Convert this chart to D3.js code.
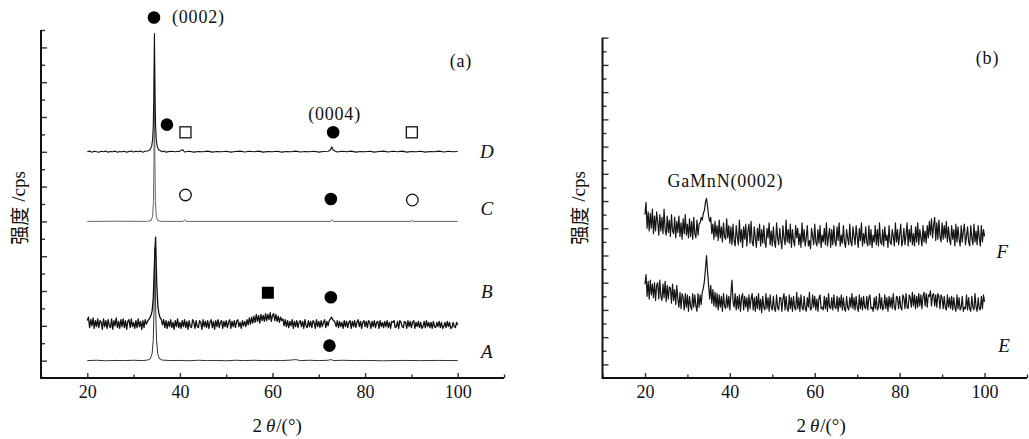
<!DOCTYPE html>
<html>
<head>
<meta charset="utf-8">
<script src="https://cdn.jsdelivr.net/npm/d3@7"></script>
<style>
  body { margin: 0; background: #fff; }
  svg { display: block; }
  svg text { font-family: "Liberation Serif", "Times New Roman", "DejaVu Serif", serif; }
  svg text .cjk { font-family: "Noto Sans CJK SC", "Noto Sans CJK JP", sans-serif; }
</style>
</head>
<body>
<svg id="chart" width="1029" height="439"></svg>
<script>
// ---- shared axis values ----
const angleDomain = [10, 110];
const angleMajorTicks = [20, 40, 60, 80, 100];
const angleMinorTicks = [10, 30, 50, 70, 90, 110];

// ---- panel (a): XRD scans, intensity in stacked units ----
const curveA = [[20,1.0],[22,1.02],[24,0.99],[26,1.01],[28,1.0],[30,1.02],[32,1.0],[33,1.03],[33.6,1.1],[34.0,1.4],[34.25,2.2],[34.4,3.8],[34.5,6.0],[34.58,7.5],[34.66,6.0],[34.78,3.8],[34.95,2.2],[35.2,1.4],[35.6,1.1],[36.2,1.03],[38,1.0],[40,1.01],[42,0.99],[44,1.02],[46,1.0],[48,1.01],[50,0.99],[52,1.02],[54,1.0],[56,1.02],[58,1.0],[60,1.01],[62,1.0],[64,1.03],[65,1.06],[66,1.0],[68,1.02],[70,1.0],[72,1.02],[72.6,1.06],[73.2,1.0],[75,1.02],[78,1.0],[80,1.01],[84,0.99],[88,1.01],[92,1.0],[96,1.01],[100,1.0]];

const curveC = [[20,9.0],[26,9.01],[33,9.0],[33.8,9.05],[34.1,9.3],[34.3,10.2],[34.42,13.0],[34.5,17.5],[34.58,13.0],[34.7,10.2],[34.9,9.3],[35.2,9.05],[36,9.0],[40.7,9.0],[41,9.1],[41.3,9.0],[72.6,9.0],[72.9,9.1],[73.2,9.0],[90,9.0],[90.2,9.07],[90.4,9.0],[100,9.0]];

const curveD = [[20,13.0],[20.5,13.04],[21,12.98],[21.5,13.03],[22,13.0],[22.5,12.97],[23,13.03],[23.5,13.0],[24,13.04],[24.5,12.98],[25,13.02],[25.5,13.0],[26,13.04],[26.5,12.97],[27,13.02],[27.5,13.0],[28,13.03],[28.5,12.98],[29,13.02],[29.5,13.04],[30,12.99],[30.5,13.03],[31,13.0],[31.5,13.04],[32,12.98],[32.5,13.03],[33,13.05],[33.5,13.1],[33.9,13.3],[34.1,13.7],[34.25,14.5],[34.35,16.0],[34.45,18.6],[34.5,19.8],[34.55,18.6],[34.65,16.0],[34.75,14.5],[34.9,13.7],[35.1,13.3],[35.4,13.12],[35.8,13.06],[36.2,13.0],[36.6,13.04],[37,12.98],[38,13.03],[39,13.0],[40,13.04],[40.6,13.12],[41,12.99],[42,13.03],[43,12.98],[44,13.02],[45,13.0],[46,13.04],[47,12.98],[48,13.02],[49,13.0],[50,13.03],[51,12.98],[52,13.02],[53,13.04],[54,12.99],[55,13.03],[56,13.0],[57,13.04],[58,12.98],[59,13.02],[60,13.0],[61,13.03],[62,12.98],[63,13.02],[64,13.0],[65,13.04],[66,12.99],[67,13.02],[68,13.0],[69,13.03],[70,12.98],[71,13.02],[72,13.03],[72.5,13.1],[72.8,13.28],[73.1,13.1],[73.6,13.03],[74,12.99],[75,13.03],[76,13.0],[77,13.04],[78,12.98],[79,13.02],[80,13.0],[81,13.03],[82,12.98],[83,13.02],[84,13.04],[85,12.99],[86,13.03],[87,13.0],[88,13.04],[89,12.98],[90,13.02],[91,13.0],[92,13.03],[93,12.98],[94,13.02],[95,13.0],[96,13.04],[97,12.99],[98,13.03],[99,13.0],[100,13.02]];

// noisy scans recorded on a regular 0.25 degree grid starting at 20 degrees
const scanStart = 20, scanStep = 0.25;

const scanB = [
  3.3,3.5,2.9,3.35, 3.0,3.45,2.85,3.3, 2.95,3.4,2.9,3.3, 3.2,2.8,3.4,2.95,
  3.3,2.85,3.35,3.0, 2.9,3.4,2.8,3.3, 3.0,3.45,2.9,3.25, 2.85,3.35,2.95,3.4,
  2.9,3.3,2.8,3.25, 3.35,2.9,3.4,2.95, 3.2,2.85,3.3,2.9, 3.4,2.95,3.25,2.8,
  3.3,2.9,3.35,3.1, 3.25,3.35,3.45,3.6, 3.85,4.6,6.6,8.1, 5.4,4.1,3.65,3.45,
  3.35,3.05,3.35,2.9, 3.3,2.85,3.25,2.95, 3.35,2.9,3.2,2.8, 3.3,2.95,3.4,2.9,
  3.2,2.85,3.3,2.95,3.35,2.9,3.25,2.8,
  3.3,2.95,2.9,3.35,3.2,2.85,3.3,2.95,
  2.9,3.3,3.2,2.8,3.35,2.95,3.25,2.9,
  3.3,2.85,3.2,3.35,2.9,3.25,2.8,3.3,
  2.95,3.35,2.9,3.2,3.3,2.85,3.25,2.95,
  3.3,2.9,3.2,3.35,2.85,3.25,2.95,3.3,
  2.9,3.25,3.35,2.95,3.2,2.85,3.3,3.0,
  3.25,2.95,3.35,3.05,3.45,3.1,3.5,3.15,
  3.55,3.2,3.65,3.25,3.6,3.15,3.65,3.3,
  3.6,3.25,3.7,3.3,3.65,3.35,3.75,3.25,
  3.6,3.7,3.3,3.65,3.25,3.55,3.2,3.5,
  3.3,3.4,3.0,3.35,2.95,3.3,2.9,3.25,
  3.0,3.35,2.85,3.25,2.95,3.3,2.9,3.2,
  3.3,2.95,3.25,2.85,3.35,3.0,2.9,3.3,
  2.95,3.25,2.9,3.3,3.2,2.85,3.35,2.95,
  3.25,2.9,3.3,2.95,3.2,3.35,2.9,3.25,
  3.0,3.3,3.4,3.5,3.35,3.3,3.2,2.95,
  3.3,2.9,3.25,2.95,3.2,2.85,3.3,2.95,
  3.25,2.9,3.2,3.3,2.85,3.25,2.95,3.3,
  2.9,3.2,3.35,2.95,3.25,2.85,3.2,3.3,
  2.95,3.25,2.9,3.3,3.2,2.85,3.25,2.95,
  3.3,2.9,3.2,3.25,2.85,3.3,2.95,3.2,
  2.9,3.25,2.95,3.3,2.9,3.2,2.85,3.25,
  3.2,3.3,2.9,2.95,3.25,2.85,3.3,3.2,
  2.95,2.9,3.25,3.2,2.85,3.3,2.95,3.25,
  2.9,3.2,3.3,2.85,3.2,2.95,3.25,2.9,
  3.2,2.85,2.95,3.25,2.9,3.3,2.95,3.2,
  2.9,3.2,2.85,3.25,2.95,2.9,3.2,2.95,
  3.25,2.9,3.2,2.85,2.95,3.2,2.9,3.25,
  2.95,3.2,2.85,2.9,3.2,2.95,2.9,3.2,
  3.05
];

// ---- panel (b): GaMnN films ----
const scanE = [
  6.9,7.6,6.0,7.1, 5.8,7.2,6.1,6.9, 5.9,7.0,5.7,6.8, 7.0,5.8,7.2,6.0,
  5.7,6.9,5.9,7.1, 5.6,6.8,5.8,6.7, 6.6,5.5,6.9,5.7, 6.5,5.4,6.8,5.8,
  5.2,6.3,5.1,6.2, 5.9,5.0,6.2,5.2, 6.1,4.9,6.0,5.3, 5.0,6.2,5.2,6.1,
  5.3,4.9,6.2,5.2, 6.1,5.4,6.3,6.6, 7.1,8.0,9.0,7.8, 6.8,5.8,6.8,5.5,
  6.5,5.3,6.3,5.2, 6.2,5.0,6.1,5.2, 6.0,4.9,6.2,5.3, 5.1,6.1,5.2,6.0,
  5.0,6.2,7.2,5.6, 5.2,6.2,5.0,6.0,
  5.1,6.1,4.9,5.9,6.2,5.0,6.0,5.2,
  5.9,4.9,6.1,5.1,5.8,6.2,5.0,5.9,
  4.9,6.0,5.1,6.2,5.0,5.8,4.8,6.0,
  5.2,5.0,6.2,5.1,5.9,4.9,6.1,5.2,
  5.0,6.0,5.1,4.9,6.1,5.2,5.0,5.9,
  5.9,4.9,5.8,6.2,5.0,6.0,5.1,4.9,
  6.1,5.1,5.9,4.9,6.0,5.2,5.0,6.3,
  5.1,5.9,4.9,6.1,5.2,5.0,6.0,5.1,
  4.9,5.9,5.2,6.3,5.0,5.1,6.1,5.2,
  6.0,5.0,5.8,4.9,5.9,6.1,5.1,5.2,
  5.0,6.0,5.1,5.9,4.9,6.2,5.2,5.1,
  5.9,5.0,6.1,5.2,5.1,6.0,4.9,5.9,
  5.2,6.1,5.0,5.9,5.1,4.9,6.0,5.2,
  5.0,5.9,5.2,6.2,5.1,5.9,5.0,6.0,
  5.2,4.9,6.1,5.1,5.9,5.0,6.0,5.2,
  5.1,6.0,5.0,5.9,6.1,5.1,5.2,4.9,
  5.9,5.1,6.0,5.0,5.2,6.2,5.1,5.9,
  5.0,5.2,6.1,5.1,5.9,4.9,6.0,5.2,
  5.9,5.1,6.2,5.2,5.0,6.0,5.9,5.1,
  6.0,5.2,5.0,6.1,5.9,5.1,6.2,5.2,
  5.1,6.1,5.9,5.2,6.3,5.3,6.1,5.1,
  6.0,5.2,6.2,5.3,6.1,5.1,6.0,6.3,
  5.3,6.2,5.2,6.1,6.0,6.4,5.3,6.1,
  6.2,5.3,6.1,5.2,6.2,6.0,5.1,6.1,
  5.9,5.1,6.0,5.2,5.0,6.1,5.2,5.9,
  5.1,6.0,5.0,5.9,5.2,4.9,6.1,5.1,
  5.9,5.0,5.2,6.0,4.9,5.2,5.1,6.1,
  5.0,5.9,5.1,4.9,6.0,5.2,5.0,6.2,
  5.2,4.9,5.9,5.1,5.0,6.0,5.1,6.1,
  5.6
];

const scanF = [
  12.0,12.9,11.0,12.2, 10.8,12.1,11.0,12.4, 10.6,11.9,10.8,12.2, 11.5,10.5,12.0,10.8,
  11.8,10.6,12.4,10.9, 10.5,11.9,10.7,11.6, 10.4,12.0,10.8,10.6, 11.8,10.3,11.5,10.7,
  11.9,10.4,11.4,10.2, 11.7,10.6,12.0,10.5, 11.3,10.3,11.7,10.4, 11.5,10.2,11.8,10.6,
  10.3,11.6,10.5,11.3, 11.4,11.8,11.6,12.1, 12.3,12.9,13.2,12.6, 11.9,11.5,11.8,10.6,
  11.3,10.2,11.5,10.4, 11.2,10.1,11.6,10.3, 11.1,10.0,11.4,10.4, 10.2,11.7,10.3,11.2,
  9.9,11.1,9.8,11.3,10.1,9.7,11.2,10.4,
  9.8,11.6,10.0,10.9,9.6,11.1,10.2,11.3,
  9.7,10.8,11.3,9.9,11.5,10.0,9.7,11.1,
  10.3,9.6,11.0,10.1,11.3,9.7,10.9,9.9,
  11.2,10.0,9.6,11.0,10.3,11.4,9.8,10.8,
  9.7,11.1,10.0,9.6,11.4,10.3,9.8,11.0,
  10.1,9.5,11.2,10.3,9.8,11.6,10.0,10.9,
  9.9,11.3,9.6,10.9,10.1,9.7,11.2,10.3,
  11.0,9.8,10.6,9.6,11.4,10.0,10.9,9.7,
  10.3,11.2,9.7,10.1,9.5,11.0,10.4,9.8,
  11.3,10.0,9.7,10.9,9.9,11.2,9.6,10.5,
  10.0,11.0,9.8,11.4,9.7,10.4,11.0,9.6,
  10.9,9.8,11.2,10.0,9.7,11.1,10.1,11.4,
  9.7,10.5,9.9,11.2,10.0,9.6,10.9,10.3,
  9.8,11.3,10.0,9.7,11.1,10.4,9.8,11.2,
  10.4,9.6,11.0,10.1,11.4,9.7,10.6,9.9,
  11.1,10.0,9.7,11.2,9.8,10.9,9.6,10.5,
  10.0,11.2,9.8,10.9,9.7,11.4,10.0,9.8,
  10.9,9.7,11.1,10.1,10.5,9.6,11.2,10.0,
  9.8,10.9,10.4,9.7,11.4,10.0,10.9,9.8,
  10.5,11.3,9.7,10.1,11.0,9.8,10.5,11.4,
  9.7,10.9,10.0,11.2,9.8,10.6,9.7,11.1,
  10.0,11.4,9.8,10.9,10.3,9.7,11.2,10.0,
  10.8,9.9,11.2,10.3,11.5,10.5,11.7,10.3,
  11.2,11.8,10.1,11.4,10.2,11.6,10.4,10.0,
  11.4,10.2,11.2,10.3,11.5,10.0,11.1,10.2,
  9.8,11.2,10.2,10.9,9.7,11.3,10.0,11.1,
  10.2,9.7,11.2,10.0,10.8,11.3,9.8,10.4,
  11.1,10.0,9.7,11.2,10.3,9.8,11.3,10.0,
  10.8,9.8,11.2,10.3,9.7,11.2,10.0,10.9,
  10.4
];

// phase markers and annotations, placed in (2theta, stacked level) coordinates
const markersLeft = [
  { angle: 34.4, level: 20.72, shape: "disc" },
  { angle: 37.2, level: 14.56, shape: "disc" },
  { angle: 41.2, level: 14.12, shape: "box" },
  { angle: 73.1, level: 14.12, shape: "disc" },
  { angle: 90.1, level: 14.12, shape: "box" },
  { angle: 41.2, level: 10.52, shape: "ring" },
  { angle: 72.6, level: 10.29, shape: "disc" },
  { angle: 90.2, level: 10.23, shape: "ring" },
  { angle: 59.0, level: 4.90, shape: "block" },
  { angle: 72.6, level: 4.64, shape: "disc" },
  { angle: 72.3, level: 1.86, shape: "disc" }
];
const notesLeft = [
  { text: "(0002)", angle: 38.3, level: 20.75, anchor: "start" },
  { text: "(0004)", angle: 73.4, level: 15.2, anchor: "middle" },
  { text: "(a)", angle: 100.7, level: 18.2, anchor: "middle" }
];
const sampleLabelsLeft = [
  { text: "D", angle: 106.3, level: 13.0 },
  { text: "C", angle: 106.3, level: 9.75 },
  { text: "B", angle: 106.3, level: 4.95 },
  { text: "A", angle: 106.3, level: 1.5 }
];
const notesRight = [
  { text: "GaMnN(0002)", angle: 25.3, level: 14.5, anchor: "start" },
  { text: "(b)", angle: 100.7, level: 23.5, anchor: "middle" }
];
const sampleLabelsRight = [
  { text: "F", angle: 104.2, level: 9.3 },
  { text: "E", angle: 104.6, level: 2.4 }
];

const svg = d3.select("#chart");

function drawPanel(cfg) {
  const x = d3.scaleLinear().domain(angleDomain).range([cfg.left, cfg.right]);
  const y = d3.scaleLinear().domain([0, cfg.levels]).range([cfg.bottom, cfg.top]);
  const g = svg.append("g");

  const styleTicks = sel => {
    sel.attr("font-family", null);
    sel.select(".domain").remove();
    sel.selectAll(".tick line").attr("stroke", "#333").attr("stroke-width", 1.4);
  };

  const oddLevels = d3.range(1, cfg.levels + 1, 2);
  const evenLevels = d3.range(2, cfg.levels + 1, 2);
  g.append("g").attr("transform", `translate(${cfg.left},0)`)
    .call(d3.axisLeft(y).tickValues(oddLevels).tickSize(-6).tickFormat(""))
    .call(styleTicks);
  g.append("g").attr("transform", `translate(${cfg.left},0)`)
    .call(d3.axisLeft(y).tickValues(evenLevels).tickSize(-4).tickFormat(""))
    .call(styleTicks);

  const xMajor = g.append("g").attr("transform", `translate(0,${cfg.bottom})`)
    .call(d3.axisBottom(x).tickValues(angleMajorTicks).tickSize(-5).tickPadding(7).tickFormat(d3.format("d")))
    .call(styleTicks);
  xMajor.attr("font-size", 18);
  xMajor.selectAll("text").attr("fill", "#111");
  g.append("g").attr("transform", `translate(0,${cfg.bottom})`)
    .call(d3.axisBottom(x).tickValues(angleMinorTicks).tickSize(-3.5).tickFormat(""))
    .call(styleTicks);

  // frame: y axis and x axis
  g.append("path")
    .attr("d", `M${cfg.left},${cfg.top}V${cfg.bottom}H${cfg.right}`)
    .attr("fill", "none").attr("stroke", "#111").attr("stroke-width", 2);

  // axis titles
  const yt = g.append("text")
    .attr("transform", `translate(${cfg.yTitleX},${cfg.yTitleY}) rotate(-90)`)
    .attr("text-anchor", "middle").attr("dominant-baseline", "central")
    .attr("font-size", 19).attr("fill", "#111");
  yt.append("tspan").attr("class", "cjk").text("强度");
  yt.append("tspan").attr("dx", 5).text("/cps");

  const xt = g.append("text")
    .attr("x", x(cfg.xTitleAngle)).attr("y", 425)
    .attr("text-anchor", "middle").attr("dominant-baseline", "central")
    .attr("font-size", 19).attr("fill", "#111");
  xt.append("tspan").text("2");
  xt.append("tspan").attr("dx", 4).attr("font-style", "italic").text("θ");
  xt.append("tspan").attr("dx", 1).text("/(°)");

  return { x, y, g };
}

const left = drawPanel({ left: 41, right: 504, top: 30, bottom: 378, levels: 20, yTitleX: 18, yTitleY: 208, xTitleAngle: 61 });
const right = drawPanel({ left: 602.5, right: 1027, top: 37.7, bottom: 378, levels: 25, yTitleX: 578, yTitleY: 208, xTitleAngle: 61.5 });

function pairsFromScan(values) {
  return values.map((v, i) => [scanStart + i * scanStep, v]);
}

function drawCurve(p, data, color, width) {
  const line = d3.line().x(d => p.x(d[0])).y(d => p.y(d[1]));
  p.g.append("path").datum(data)
    .attr("d", line)
    .attr("fill", "none").attr("stroke", color)
    .attr("stroke-width", width).attr("stroke-linejoin", "round");
}

drawCurve(left, curveA, "#333", 1);
drawCurve(left, pairsFromScan(scanB), "#111", 1.3);
drawCurve(left, curveC, "#555", 0.9);
drawCurve(left, curveD, "#111", 1.1);

drawCurve(right, pairsFromScan(scanF), "#151515", 1.2);
drawCurve(right, pairsFromScan(scanE), "#151515", 1.2);

// phase markers
function drawMarkers(p, list) {
  list.forEach(m => {
    const cx = p.x(m.angle), cy = p.y(m.level);
    if (m.shape === "disc") {
      p.g.append("circle").attr("cx", cx).attr("cy", cy).attr("r", 6.3).attr("fill", "#000");
    } else if (m.shape === "ring") {
      p.g.append("circle").attr("cx", cx).attr("cy", cy).attr("r", 5.8)
        .attr("fill", "#fff").attr("stroke", "#111").attr("stroke-width", 1.3);
    } else if (m.shape === "box") {
      p.g.append("rect").attr("x", cx - 5.5).attr("y", cy - 5.5).attr("width", 11).attr("height", 11)
        .attr("fill", "#fff").attr("stroke", "#111").attr("stroke-width", 1.3);
    } else {
      p.g.append("rect").attr("x", cx - 6).attr("y", cy - 6).attr("width", 12).attr("height", 12)
        .attr("fill", "#000");
    }
  });
}
drawMarkers(left, markersLeft);

function drawNotes(p, notes) {
  notes.forEach(n => {
    p.g.append("text").attr("x", p.x(n.angle)).attr("y", p.y(n.level))
      .attr("text-anchor", n.anchor).attr("dominant-baseline", "central")
      .attr("font-size", 18).attr("letter-spacing", 0.8)
      .attr("fill", "#111").text(n.text);
  });
}
function drawSampleLabels(p, labels) {
  labels.forEach(n => {
    p.g.append("text").attr("x", p.x(n.angle)).attr("y", p.y(n.level))
      .attr("text-anchor", "middle").attr("dominant-baseline", "central")
      .attr("font-size", 19).attr("font-style", "italic")
      .attr("fill", "#111").text(n.text);
  });
}
drawNotes(left, notesLeft);
drawSampleLabels(left, sampleLabelsLeft);
drawNotes(right, notesRight);
drawSampleLabels(right, sampleLabelsRight);
</script>
</body>
</html>
